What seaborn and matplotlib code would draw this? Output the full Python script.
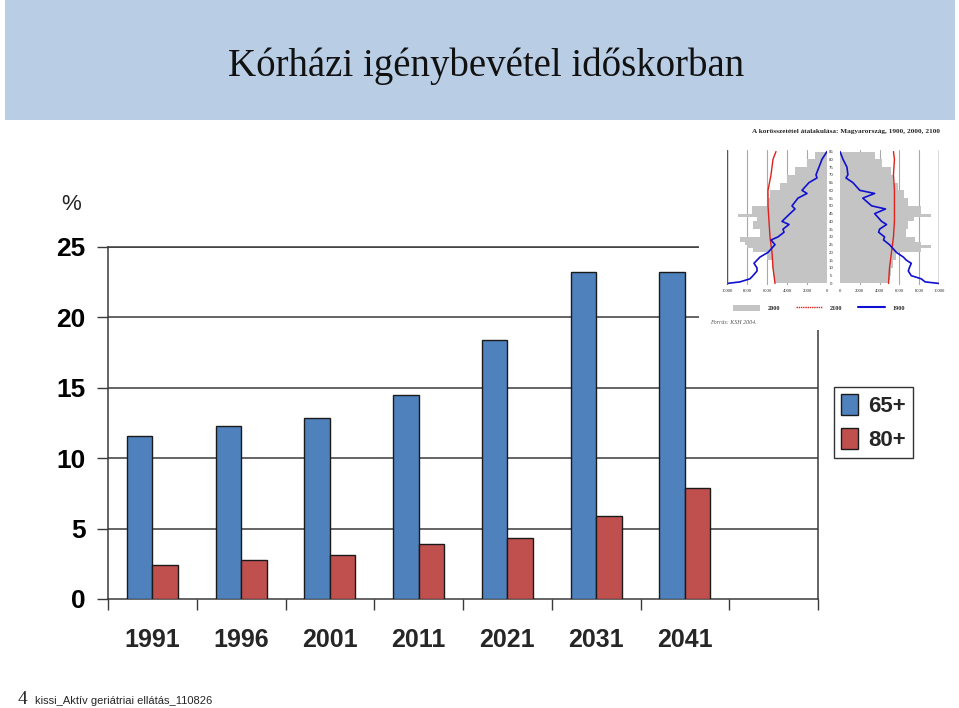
import matplotlib
matplotlib.use("Agg")
import matplotlib.pyplot as plt
from matplotlib.patches import Rectangle, Patch
from matplotlib.lines import Line2D
import seaborn as sns
import pandas as pd

# ---------------- data ----------------
years = ["1991", "1996", "2001", "2011", "2021", "2031", "2041"]
pct_65 = [11.6, 12.3, 12.85, 14.5, 18.4, 23.2, 23.2]
pct_80 = [2.4, 2.8, 3.1, 3.9, 4.35, 5.9, 7.9]
groups = ["65+", "80+"]
y_ticks = [0, 5, 10, 15, 20, 25]

# inset population pyramid (approximate readings)
gray_ages = [0, 2, 5, 10, 15, 20, 23, 25, 27, 30, 35, 40, 43, 45, 50, 55, 60, 65, 70, 75, 80, 85]
gray_m = [5200, 5300, 5400, 5500, 6000, 7400, 8000, 8200, 8700, 6700, 7400, 7000, 8900, 7500,
          6000, 5700, 4700, 4000, 3200, 2000, 1200, 300]
gray_f = [4900, 5000, 5200, 5400, 5700, 8200, 9200, 8200, 7600, 6700, 6900, 7500, 9200, 8200,
          6900, 6500, 5900, 5400, 5200, 4200, 3500, 1800]
red_ages = [0, 10, 20, 30, 40, 50, 60, 70, 80, 85]
red_m = [5200, 5400, 5500, 5700, 5800, 5900, 5900, 5600, 5400, 5100]
red_f = [4900, 5000, 5200, 5400, 5500, 5500, 5500, 5400, 5500, 5400]
blue_ages = [0, 1, 3, 5, 8, 10, 13, 15, 17, 20, 25, 28, 30, 33, 35, 38, 40, 45, 48, 50, 55, 58,
             60, 65, 68, 70, 75, 80, 85]
blue_m = [10000, 8700, 7700, 7400, 7000, 7000, 7300, 7000, 6700, 5900, 5200, 5600, 4900, 4300,
          4400, 3800, 4500, 3700, 3200, 3500, 2900, 2000, 2500, 1800, 1000, 1100, 800, 500, 0]
blue_f = [10000, 8600, 8200, 7200, 6900, 7000, 7200, 6700, 6400, 5700, 5000, 4400, 4500, 3900,
          4000, 4700, 4200, 3500, 4600, 3200, 2300, 3500, 2000, 1300, 600, 800, 700, 300, 0]
inset_ticks = [0, 2000, 4000, 6000, 8000, 10000]
age_ticks = list(range(0, 90, 5))

W, H = 959, 708
BLUE = "#4f81bd"
RED = "#c0504d"
DARK = "#3a3a3a"

sns.set_theme(style="white")
plt.rcParams["font.family"] = ["Liberation Sans", "DejaVu Sans"]

fig = plt.figure(figsize=(W / 100, H / 100), dpi=100)
fig.patch.set_facecolor("white")

# title band
fig.patches.append(Rectangle((5 / W, 1 - 120 / H), 950 / W, 120 / H, transform=fig.transFigure,
                             facecolor="#b9cde5", edgecolor="none", zorder=0))
fig.text(486 / W, 1 - 66 / H, "Kórházi igénybevétel időskorban", ha="center", va="center",
         fontsize=28, family=["Liberation Serif", "DejaVu Serif"], color="#111111")

# ---------------- main chart ----------------
ax = fig.add_axes([108 / W, 1 - 599 / H, 710 / W, 352 / H])
df = pd.DataFrame({
    "year": years * 2,
    "group": [groups[0]] * len(years) + [groups[1]] * len(years),
    "value": pct_65 + pct_80,
})
sns.barplot(data=df, x="year", y="value", hue="group", order=years, hue_order=groups,
            palette=[BLUE, RED], width=0.575, edgecolor="#1a1a1a", linewidth=1.0,
            saturation=1, ax=ax, zorder=3)
ax.set_xlim(-0.5, 7.5)
ax.set_ylim(0, 25)
ax.set_xlabel("")
ax.set_ylabel("")
ax.set_yticks(y_ticks)
ax.set_yticklabels([str(v) for v in y_ticks], fontsize=19, fontweight="bold", color="black")
ax.tick_params(axis="y", direction="out", length=8, width=1, color=DARK, pad=8, left=True)
for v in y_ticks[1:]:
    ax.axhline(v, color=DARK, lw=1.1, zorder=1)
# category boundaries as major ticks, labels at centers via minor ticks
ax.set_xticks([i - 0.5 for i in range(9)])
ax.set_xticklabels([""] * 9)
ax.set_xticks(range(len(years)), minor=True)
ax.set_xticklabels(years, minor=True, fontsize=18, fontweight="bold")
ax.tick_params(axis="x", which="major", direction="out", length=8, width=1, color=DARK, bottom=True)
ax.tick_params(axis="x", which="minor", length=0, pad=21, bottom=True)
for side in ["left", "bottom", "right", "top"]:
    ax.spines[side].set_visible(True)
    ax.spines[side].set_color(DARK)
    ax.spines[side].set_linewidth(1.1)
ax.set_facecolor("white")

handles, labels = ax.get_legend_handles_labels()
ax.legend(handles, labels, loc="upper left", bbox_to_anchor=(834 / W, 1 - 387 / H),
          bbox_transform=fig.transFigure, frameon=True, fancybox=False, edgecolor="black",
          prop={"weight": "bold", "size": 16}, handlelength=0.8, handleheight=1.1,
          handletextpad=0.45, labelspacing=0.5, borderpad=0.3, borderaxespad=0)
leg = ax.get_legend()
leg.get_frame().set_linewidth(1.0)

fig.text(71 / W, 1 - 204 / H, "%", ha="center", va="center", fontsize=16)

# footer
fig.text(18 / W, 1 - 700 / H, "4", ha="left", va="center", fontsize=14,
         family=["Liberation Serif", "DejaVu Serif"])
fig.text(35 / W, 1 - 701 / H, "kissi_Aktív geriátriai ellátás_110826", ha="left", va="center",
         fontsize=8)

# ---------------- inset population pyramid ----------------
bg = fig.add_axes([699 / W, 1 - 330 / H, 260 / W, 210 / H], zorder=5)
bg.set_facecolor("white")
bg.set_xticks([])
bg.set_yticks([])
for s in bg.spines.values():
    s.set_visible(False)

serif = ["Liberation Serif", "DejaVu Serif"]
axl = fig.add_axes([727 / W, 1 - 285 / H, 100 / W, 135 / H], zorder=6)
axr = fig.add_axes([840 / W, 1 - 285 / H, 99 / W, 135 / H], zorder=6)
for a, gv, rv, bv in [(axl, gray_m, red_m, blue_m), (axr, gray_f, red_f, blue_f)]:
    a.fill_betweenx(gray_ages, 0, gv, step="post", color="#c4c4c4", lw=0, zorder=2)
    a.plot(rv, red_ages, color="#e0201c", lw=1.0, zorder=4)
    a.plot(bv, blue_ages, color="#1010d0", lw=1.2, zorder=5)
    a.set_ylim(-1, 86)
    a.set_xticks(inset_ticks)
    a.set_xticklabels([str(t) for t in inset_ticks], fontsize=3.3, family=serif)
    a.tick_params(axis="x", length=0, pad=3)
    for t in inset_ticks[1:]:
        a.axvline(t, color="#a8a8a8", lw=0.8, zorder=1)
    a.set_facecolor("white")
    for s in a.spines.values():
        s.set_visible(False)
    a.grid(False)
axl.set_xlim(10000, 0)
axr.set_xlim(0, 10000)
axl.set_yticks([])
axr.set_yticks(age_ticks)
axr.set_yticklabels([str(t) for t in age_ticks], fontsize=3.2, color="#333333")
axr.tick_params(axis="y", length=0, pad=1.5)
for lbl in axr.get_yticklabels():
    lbl.set_horizontalalignment("center")
    lbl.set_x(-0.065)
axl.axvline(10000, color="#555555", lw=1.0, zorder=6)
axr.axvline(10000, color="#555555", lw=1.0, zorder=6)

fig.text(846 / W, 1 - 132 / H, "A korösszetétel átalakulása: Magyarország, 1900, 2000, 2100",
         ha="center", va="center", fontsize=5.2, fontweight="bold", family=serif, zorder=10)
ih = [Patch(facecolor="#c4c4c4", edgecolor="none"),
      Line2D([], [], color="#e0201c", lw=1.0, ls=(0, (1, 0.6))),
      Line2D([], [], color="#1010d0", lw=1.5)]
bg.legend(ih, ["2000", "2100", "1900"], loc="center", bbox_to_anchor=(819 / W, 1 - 308 / H),
          bbox_transform=fig.transFigure, ncol=3, frameon=False,
          prop={"family": serif, "size": 4.5, "weight": "bold"}, handlelength=4.3,
          handleheight=1.3, columnspacing=2.5, handletextpad=1.2)
fig.text(710 / W, 1 - 322 / H, "Forrás: KSH 2004.", ha="left", va="center", fontsize=4.3,
         style="italic", family=serif, color="#555555", zorder=10)

fig.savefig("out.png", dpi=100)
